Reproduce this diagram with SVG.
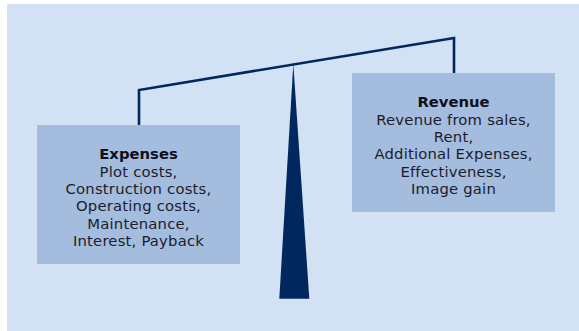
<svg xmlns="http://www.w3.org/2000/svg" width="579" height="331" viewBox="0 0 579 331">
<style>
.box{fill:#a4bcde}
.t{font-family:"DejaVu Sans",sans-serif;font-size:14.8px;fill:#1b1d2b;text-anchor:middle;letter-spacing:0.2px}
.b{font-weight:bold;fill:#0d0f1a;letter-spacing:0}
.beam{fill:none;stroke:#00285f;stroke-width:2.6;stroke-linejoin:miter}
</style>
<rect x="0" y="0" width="579" height="331" fill="#ffffff"/>
<rect x="7" y="4" width="572" height="327" fill="#d2e1f3"/>
<g id="connectors">
<polyline class="beam" points="139,125 139,90 454,38 454,73"/>
<polygon id="fulcrum" points="293.3,64 279.3,298.7 309.3,298.7" fill="#00285f"/>
</g>
<g id="expenses">
<rect class="box" x="37" y="125" width="203" height="139"/>
<text class="t"><tspan class="b" x="138.5" y="159.3">Expenses</tspan><tspan x="138.5" y="176.6">Plot costs,</tspan><tspan x="138.5" y="193.9">Construction costs,</tspan><tspan x="138.5" y="211.2">Operating costs,</tspan><tspan x="138.5" y="228.5">Maintenance,</tspan><tspan x="138.5" y="245.8">Interest, Payback</tspan></text>
</g>
<g id="revenue">
<rect class="box" x="352" y="73" width="203" height="139"/>
<text class="t"><tspan class="b" x="453.5" y="107.3">Revenue</tspan><tspan x="453.5" y="124.6">Revenue from sales,</tspan><tspan x="453.5" y="141.9">Rent,</tspan><tspan x="453.5" y="159.2">Additional Expenses,</tspan><tspan x="453.5" y="176.5">Effectiveness,</tspan><tspan x="453.5" y="193.8">Image gain</tspan></text>
</g>
</svg>
